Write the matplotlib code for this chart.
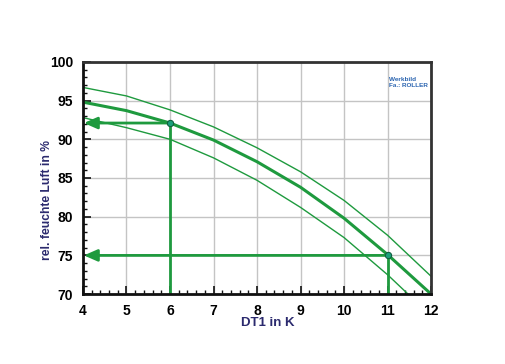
import matplotlib
matplotlib.use("Agg")
import matplotlib.pyplot as plt
from matplotlib.ticker import MultipleLocator

# curves
dt1 = [4, 5, 6, 7, 8, 9, 10, 11, 12]
mid = [94.8, 93.7, 92.1, 89.9, 87.1, 83.8, 79.8, 75.1, 70.0]
upper = [96.7, 95.6, 93.8, 91.6, 88.9, 85.8, 82.1, 77.6, 72.3]
dt1_low = [4, 5, 6, 7, 8, 9, 10, 11, 11.47]
lower = [92.8, 91.5, 90.0, 87.6, 84.7, 81.2, 77.3, 72.5, 70.0]

# reading examples: (DT1, rel. humidity)
points = [(6, 92.1), (11, 75.0)]

green = '#1e9a3e'
plt.rcParams['font.family'] = ['Liberation Sans', 'DejaVu Sans']

fig = plt.figure(figsize=(5.06, 3.64), dpi=100)
ax = fig.add_axes([0.164, 0.192, 0.688, 0.638])

ax.grid(True, color='#c4c4c4', lw=1)
ax.set_axisbelow(True)

ax.plot(dt1, upper, color=green, lw=1.0)
ax.plot(dt1_low, lower, color=green, lw=1.0)
ax.plot(dt1, mid, color=green, lw=2.2)

for px, py in points:
    ax.plot([px, px], [70, py], color=green, lw=2, solid_capstyle='butt')
    ax.annotate('', xy=(4.02, py), xytext=(px, py),
                arrowprops=dict(arrowstyle='-|>,head_length=0.8,head_width=0.35',
                                color=green, lw=2, shrinkA=0, shrinkB=0))
    ax.plot(px, py, 'o', ms=4.5, mfc='#1aa07a', mec='#106040', mew=0.8, zorder=5)

fig.text(389 / 506, 1 - 77 / 364, 'Werkbild\nFa.: ROLLER', color='#2a64b0', fontsize=4.6,
         fontweight='bold', va='top', ha='left', linespacing=1.3)

ax.set_xlim(4, 12)
ax.set_ylim(70, 100)
ax.xaxis.set_major_locator(MultipleLocator(1))
ax.xaxis.set_minor_locator(MultipleLocator(0.2))
ax.yaxis.set_major_locator(MultipleLocator(5))
ax.yaxis.set_minor_locator(MultipleLocator(1))
ax.tick_params(which='both', direction='in', top=False, right=False, color='#111')
ax.tick_params(which='major', length=6, width=1.2, labelsize=10, pad=7)
ax.tick_params(which='minor', length=3, width=1)
for lab in ax.get_xticklabels() + ax.get_yticklabels():
    lab.set_fontweight('bold')

for s in ['left', 'bottom']:
    ax.spines[s].set_linewidth(2)
    ax.spines[s].set_color('#111')
for s in ['top', 'right']:
    ax.spines[s].set_linewidth(2)
    ax.spines[s].set_color('#333')

fig.text(268 / 506, 1 - 323 / 364, 'DT1 in K', color='#2b2a6e', fontsize=9.5,
         fontweight='bold', ha='center', va='center')
fig.text(47 / 506, 1 - 200 / 364, 'rel. feuchte Luft in %', color='#2b2a6e', fontsize=8.7,
         fontweight='bold', ha='center', va='center', rotation=90)

fig.savefig('out.png', dpi=100)
